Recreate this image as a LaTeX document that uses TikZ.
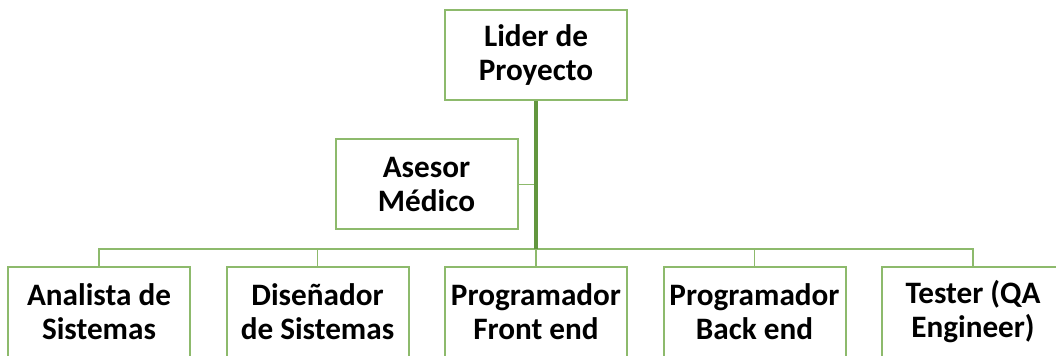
\documentclass[tikz,border=0pt]{standalone}
\usepackage{fontspec}
\setmainfont{Carlito}
\definecolor{borde}{RGB}{141,186,108}
\definecolor{tronco}{RGB}{98,150,62}
\begin{document}
\begin{tikzpicture}[x=0.5pt,y=-0.5pt,
  cargo/.style={draw=borde, line width=1pt, fill=white,
    minimum width=91pt, minimum height=45pt, inner sep=0pt,
    align=center, font=\fontsize{15.6}{17}\selectfont\bfseries},
  enlace/.style={draw=borde, line width=0.8pt}]

% -------------------------------------------------
% Marco
% -------------------------------------------------
\useasboundingbox (0,0) rectangle (1056,356);

% -------------------------------------------------
% Cargos
% -------------------------------------------------
\node[cargo] (lider) at (536,55) {Lider de\\Proyecto};
\node[cargo] (asesor) at (426.5,184.5) {Asesor\\Médico};

\node[cargo] (analista) at (99,312) {Analista de\\Sistemas};
\node[cargo] (disenador) at (317.5,312) {Diseñador\\de Sistemas};
\node[cargo] (front) at (536,312) {Programador\\Front end};
\node[cargo] (back) at (754.5,312) {Programador\\Back end};
\node[cargo] (tester) at (973,312) {Tester (QA\\Engineer)};

\coordinate (bus) at (536,249);

% -------------------------------------------------
% Enlaces
% -------------------------------------------------
\draw[enlace] (asesor.east) -- (asesor.east -| lider.south);
\draw[enlace] (analista.north) -- (analista.north |- bus)
  -- (tester.north |- bus) -- (tester.north);
\foreach \n in {disenador,front,back}
  \draw[enlace] (\n.north) -- (\n.north |- bus);
\draw[draw=tronco, line width=1.6pt] (lider.south) -- (bus);

\end{tikzpicture}
\end{document}
